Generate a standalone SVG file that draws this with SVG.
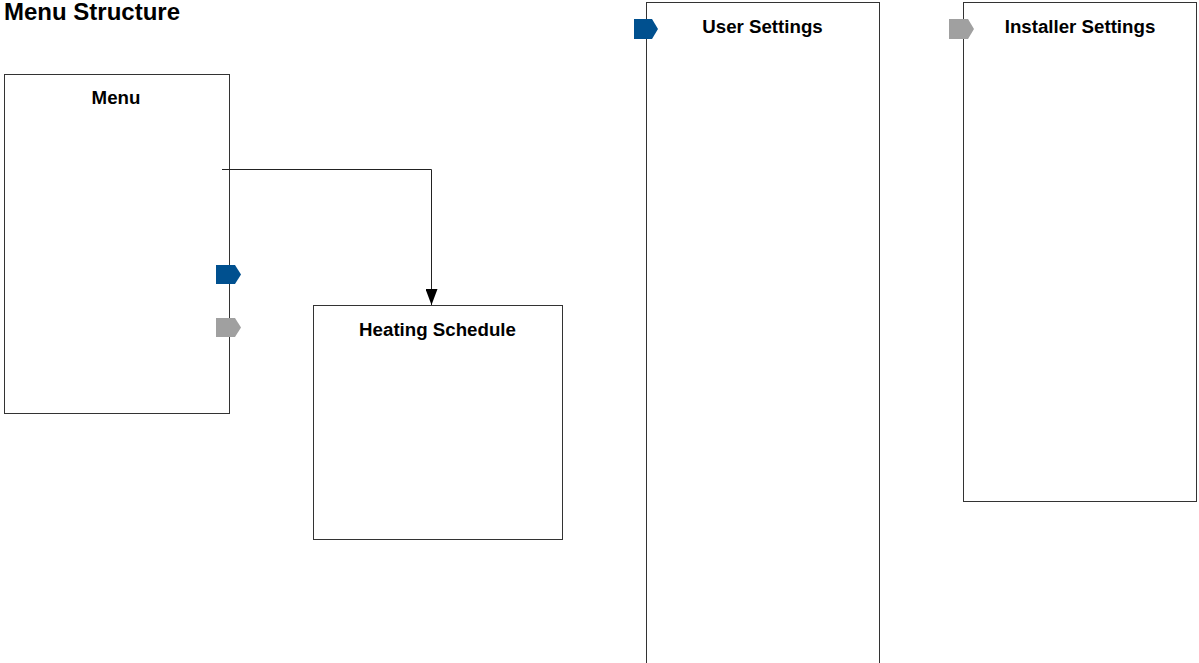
<svg xmlns="http://www.w3.org/2000/svg" width="1199" height="663" viewBox="0 0 1199 663">
<style>
.box{fill:#fff;stroke:#333;stroke-width:1}
.lbl{font-family:"Liberation Sans",Arial,sans-serif;font-weight:bold;font-size:18.7px;fill:#000;text-anchor:middle}
.title{font-family:"Liberation Sans",Arial,sans-serif;font-weight:bold;font-size:24px;fill:#000}
.conn{fill:none;stroke:#222;stroke-width:1}
.blue{fill:#00508f}
.gray{fill:#a0a0a0}
</style>
<defs>
<marker id="arr" markerWidth="16" markerHeight="12" refX="16" refY="6" orient="auto" markerUnits="userSpaceOnUse" viewBox="0 0 16 12">
<path d="M0,0 L16,6 L0,12 Z" fill="#000"/>
</marker>
</defs>
<rect width="1199" height="663" fill="#fff"/>
<text class="title" x="4" y="20">Menu Structure</text>
<g id="menu">
<rect class="box" x="4.5" y="74.5" width="225" height="339"/>
<text class="lbl" x="116" y="104">Menu</text>
<path class="blue" d="M216,265 H235 L241,274.5 L235,284 H216 Z"/>
<path class="gray" d="M216,318 H235 L241,327.5 L235,337 H216 Z"/>
</g>
<g id="heating-schedule">
<rect class="box" x="313.5" y="305.5" width="249" height="234"/>
<text class="lbl" x="437.5" y="336">Heating Schedule</text>
</g>
<g id="user-settings">
<rect class="box" x="646.5" y="2.5" width="233" height="670"/>
<text class="lbl" x="762.5" y="32.5">User Settings</text>
<path class="blue" d="M634,19 H652 L658,29 L652,39 H634 Z"/>
</g>
<g id="installer-settings">
<rect class="box" x="963.5" y="2.5" width="233" height="499"/>
<text class="lbl" x="1080" y="32.5">Installer Settings</text>
<path class="gray" d="M949,19 H968 L974,29 L968,39 H949 Z"/>
</g>
<g id="connectors">
<path class="conn" d="M222,169.5 H431.5 V305" marker-end="url(#arr)"/>
</g>
</svg>
